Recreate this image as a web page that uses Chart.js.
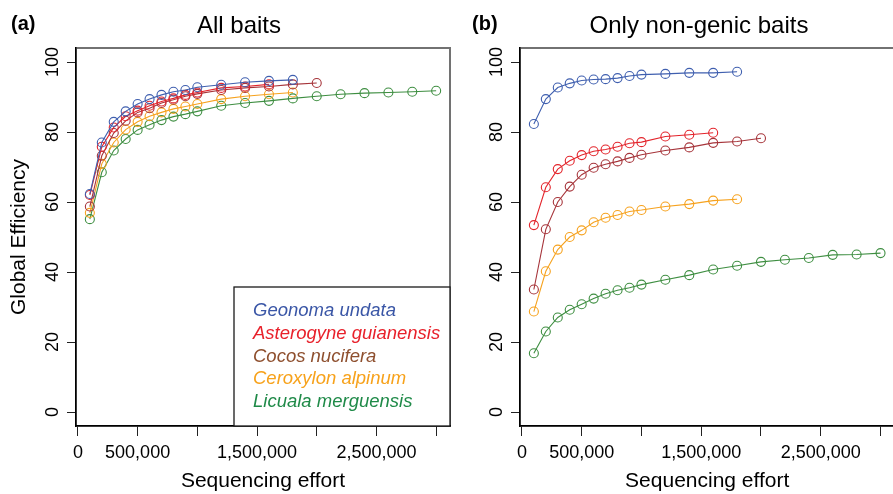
<!DOCTYPE html>
<html>
<head>
<meta charset="utf-8">
<script src="https://cdn.jsdelivr.net/npm/chart.js@4.4.1/dist/chart.umd.min.js"></script>
<style>
  html, body { margin:0; padding:0; background:#fff; overflow:hidden; }
  #wrap { position:relative; width:893px; height:494px; overflow:hidden; background:#fff; }
  canvas { position:absolute; top:0; }
</style>
</head>
<body>
<div id="wrap">
  <canvas id="c1" width="460" height="494" style="left:0px"></canvas>
  <canvas id="c2" width="440" height="494" style="left:460px"></canvas>
</div>
<script>
// ---------- DATA ----------
const sequencingEffort = [100000, 200000, 300000, 400000, 500000, 600000, 700000, 800000, 900000, 1000000,
  1200000, 1400000, 1600000, 1800000, 2000000, 2200000, 2400000, 2600000, 2800000, 3000000];

const speciesNames = ['Geonoma undata', 'Asterogyne guianensis', 'Cocos nucifera', 'Ceroxylon alpinum', 'Licuala merguensis'];

// Panel (a): All baits
const allGeonoma    = [62.3, 77.0, 82.9, 85.9, 88.0, 89.4, 90.6, 91.5, 92.0, 92.8, 93.5, 94.2, 94.6, 94.9];
const allAsterogyne = [62.0, 75.8, 81.3, 84.5, 86.1, 87.5, 88.7, 89.6, 90.6, 91.3, 92.6, 93.0, 93.6];
const allCocos      = [58.7, 73.2, 79.7, 83.2, 85.6, 86.8, 88.3, 89.2, 90.2, 90.9, 92.0, 92.6, 93.0, 93.6, 94.0];
const allCeroxylon  = [56.9, 70.9, 77.0, 80.7, 82.9, 84.5, 85.6, 86.6, 87.3, 88.0, 89.4, 90.2, 90.8, 91.3];
const allLicuala    = [55.1, 68.5, 74.7, 78.0, 80.6, 82.1, 83.4, 84.4, 85.1, 85.9, 87.5, 88.3, 88.9, 89.6, 90.2, 90.8, 91.1, 91.3, 91.5, 91.8];

// Panel (b): Only non-genic baits
const ngGeonoma    = [82.3, 89.4, 92.7, 93.9, 94.7, 95.0, 95.1, 95.4, 96.0, 96.4, 96.6, 96.9, 96.9, 97.2];
const ngAsterogyne = [53.4, 64.2, 69.4, 71.8, 73.4, 74.5, 75.0, 75.8, 76.8, 77.1, 78.7, 79.2, 79.8];
const ngCocos      = [35.0, 52.2, 60.0, 64.4, 67.8, 69.8, 70.8, 71.6, 72.6, 73.5, 74.7, 75.6, 76.9, 77.3, 78.2];
const ngCeroxylon  = [28.7, 40.2, 46.4, 50.0, 51.9, 54.2, 55.5, 56.3, 57.3, 57.7, 58.7, 59.4, 60.4, 60.8];
const ngLicuala    = [16.8, 23.0, 27.0, 29.2, 30.8, 32.4, 33.8, 34.8, 35.5, 36.4, 37.8, 39.1, 40.7, 41.8, 42.9, 43.5, 44.0, 44.9, 45.0, 45.4];

const xTickValues = [0, 500000, 1000000, 1500000, 2000000, 2500000, 3000000];
const xTickLabels = ['0', '500,000', '', '1,500,000', '', '2,500,000', ''];
const yTickValues = [0, 20, 40, 60, 80, 100];
const yTickLabels = ['0', '20', '40', '60', '80', '100'];

// ---------- STYLE ----------
const lineColors   = ['#3F5FAF', '#E3242B', '#A6343A', '#F6A21E', '#3E8E41'];
const legendColors = ['#3A56A6', '#E8212B', '#8E4F2E', '#F7A21B', '#1F8A48'];
const FONT = "'Liberation Sans', Arial, Helvetica, sans-serif";
Chart.defaults.font.family = FONT;
Chart.defaults.color = '#000';

function toPoints(vals) {
  return vals.map((v, i) => ({ x: sequencingEffort[i], y: v }));
}

function makeDatasets(seriesList) {
  return seriesList.map((vals, k) => ({
    label: speciesNames[k],
    data: toPoints(vals),
    borderColor: lineColors[k],
    borderWidth: 1.1,
    pointRadius: 4.5,
    pointBorderWidth: 1.1,
    pointBorderColor: lineColors[k],
    pointBackgroundColor: 'rgba(0,0,0,0)',
    backgroundColor: 'rgba(0,0,0,0)',
    fill: false,
    tension: 0,
    clip: false
  }));
}

const framePlugin = {
  id: 'frame',
  beforeDraw(chart) {
    const a = chart.chartArea, ctx = chart.ctx;
    ctx.save();
    ctx.strokeStyle = '#727272';
    ctx.lineWidth = 2;
    ctx.strokeRect(a.left, a.top, a.right - a.left, a.bottom - a.top);
    ctx.restore();
  },
  afterDraw(chart, args, opts) {
    const ctx = chart.ctx, a = chart.chartArea;
    ctx.save();
    ctx.fillStyle = '#000';
    ctx.textBaseline = 'alphabetic';
    ctx.textAlign = 'left';
    ctx.font = 'bold 20px ' + FONT;
    ctx.fillText(opts.letter, opts.letterX, 30);
    ctx.textAlign = 'center';
    ctx.font = '24px ' + FONT;
    ctx.fillText(opts.title, opts.titleX, 33);
    if (opts.legend) {
      const lw = 216, lh = 139;
      const lx = a.right - lw, ly = a.bottom - lh;
      ctx.fillStyle = '#fff';
      ctx.fillRect(lx, ly, lw, lh);
      ctx.strokeStyle = '#1a1a1a';
      ctx.lineWidth = 1.3;
      ctx.strokeRect(lx, ly, lw, lh);
      ctx.textAlign = 'left';
      ctx.font = 'italic 18.5px ' + FONT;
      speciesNames.forEach((name, i) => {
        ctx.fillStyle = legendColors[i];
        ctx.fillText(name, lx + 19, ly + 29 + i * 22.8);
      });
    }
    ctx.restore();
  }
};

function makeChart(id, seriesList, cfg) {
  return new Chart(document.getElementById(id), {
    type: 'line',
    data: { datasets: makeDatasets(seriesList) },
    plugins: [framePlugin],
    options: {
      responsive: false,
      animation: false,
      devicePixelRatio: 1,
      layout: { padding: { left: 0, right: cfg.padRight, top: 48, bottom: 0 } },
      plugins: {
        legend: { display: false },
        tooltip: { enabled: false },
        frame: { letter: cfg.letter, letterX: cfg.letterX, title: cfg.title, titleX: cfg.titleX, legend: cfg.legend }
      },
      scales: {
        x: {
          type: 'linear',
          min: -16000,
          max: 3116000,
          afterBuildTicks: s => { s.ticks = xTickValues.map(v => ({ value: v })); },
          afterFit: s => { s.height = 68; },
          ticks: {
            autoSkip: false,
            maxRotation: 0,
            minRotation: 0,
            padding: 6,
            font: { size: 18 },
            color: '#000',
            callback: (v, i) => xTickLabels[i]
          },
          grid: { drawOnChartArea: false, drawTicks: true, tickLength: 10, color: '#222', lineWidth: 1 },
          border: { display: true, color: '#000', width: 1.5 },
          title: { display: true, text: 'Sequencing effort', font: { size: 21 }, color: '#000', padding: { top: 0, bottom: 0 } }
        },
        y: {
          type: 'linear',
          min: -4,
          max: 104,
          afterBuildTicks: s => { s.ticks = yTickValues.map(v => ({ value: v })); },
          afterFit: s => { s.width = cfg.yWidth; },
          ticks: {
            autoSkip: false,
            minRotation: 90,
            maxRotation: 90,
            crossAlign: 'center',
            padding: -1.5,
            font: { size: 18 },
            color: '#000',
            callback: (v, i) => yTickLabels[i]
          },
          grid: { drawOnChartArea: false, drawTicks: true, tickLength: 9, color: '#222', lineWidth: 1 },
          border: { display: true, color: '#000', width: 1.5 },
          title: { display: cfg.yTitle, text: 'Global Efficiency', font: { size: 21 }, color: '#000', padding: { top: 7, bottom: 0 } }
        }
      }
    }
  });
}

makeChart('c1', [allGeonoma, allAsterogyne, allCocos, allCeroxylon, allLicuala],
  { padRight: 10, yWidth: 76, yTitle: true, letter: '(a)', letterX: 11, title: 'All baits', titleX: 239, legend: true });
makeChart('c2', [ngGeonoma, ngAsterogyne, ngCocos, ngCeroxylon, ngLicuala],
  { padRight: 5, yWidth: 60, yTitle: false, letter: '(b)', letterX: 12, title: 'Only non-genic baits', titleX: 239, legend: false });
</script>
</body>
</html>
